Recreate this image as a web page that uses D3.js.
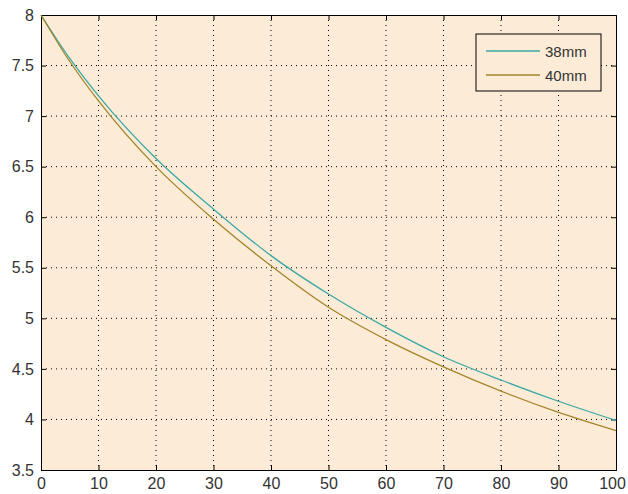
<!DOCTYPE html>
<html>
<head>
<meta charset="utf-8">
<script src="https://cdn.jsdelivr.net/npm/d3@7"></script>
<style>
  body { margin: 0; background: #ffffff; overflow: hidden; }
  text { font-family: Arial, "Liberation Sans", sans-serif; }
</style>
</head>
<body>
<div id="chart"></div>
<script>
// values
var xs = [0, 5, 10, 20, 30, 40, 50, 60, 70, 80, 90, 100];
var mm38 = [8, 7.57, 7.2, 6.58, 6.08, 5.62, 5.24, 4.91, 4.62, 4.39, 4.18, 3.99];
var mm40 = [8, 7.54, 7.15, 6.5, 5.98, 5.52, 5.11, 4.79, 4.52, 4.28, 4.07, 3.89];
var xTicks = [0, 10, 20, 30, 40, 50, 60, 70, 80, 90, 100];
var yTicks = [3.5, 4, 4.5, 5, 5.5, 6, 6.5, 7, 7.5, 8];
var seriesNames = ["38mm", "40mm"];
var seriesColors = ["#3aa8a4", "#a3852a"];

var margin = { top: 15, right: 12, bottom: 24, left: 41 },
    width = 628 - margin.left - margin.right,
    height = 494 - margin.top - margin.bottom;

var svg = d3.select("#chart")
  .append("svg")
    .attr("width", 628)
    .attr("height", 494)
  .append("g")
    .attr("transform", "translate(" + margin.left + "," + margin.top + ")");

var x = d3.scaleLinear().domain([0, 100]).range([0, width]);
var y = d3.scaleLinear().domain([3.5, 8]).range([height, 0]);

// plot background
svg.append("rect")
  .attr("width", width)
  .attr("height", height)
  .attr("fill", "#fcecd7");

// dotted grid
svg.append("g")
  .selectAll("line")
  .data(xTicks.slice(1, -1))
  .join("line")
    .attr("x1", d => x(d)).attr("x2", d => x(d))
    .attr("y1", 0).attr("y2", height)
    .attr("stroke", "#000")
    .attr("stroke-width", 1)
    .attr("stroke-dasharray", "1,4");
svg.append("g")
  .selectAll("line")
  .data(yTicks.slice(1, -1))
  .join("line")
    .attr("x1", 0).attr("x2", width)
    .attr("y1", d => y(d)).attr("y2", d => y(d))
    .attr("stroke", "#000")
    .attr("stroke-width", 1)
    .attr("stroke-dasharray", "1,4");

// axes (matlab style, ticks inside)
var xAxis = svg.append("g")
  .attr("transform", "translate(0," + height + ")")
  .call(d3.axisBottom(x).tickValues(xTicks).tickSize(-5).tickPadding(8).tickFormat(d3.format("d")));
svg.append("g")
  .call(d3.axisLeft(y).tickValues(yTicks).tickSize(-5).tickPadding(7).tickFormat(d => d));
svg.append("g")
  .call(d3.axisTop(x).tickValues(xTicks).tickSize(-5).tickFormat(""));
svg.append("g")
  .attr("transform", "translate(" + width + ",0)")
  .call(d3.axisRight(y).tickValues(yTicks).tickSize(-5).tickFormat(""));

svg.selectAll(".domain").attr("stroke", "#000");
svg.selectAll(".tick line").attr("stroke", "#000");
svg.selectAll(".tick text")
  .attr("fill", "#333")
  .attr("font-size", 16);

// keep the last x label inside the window
xAxis.selectAll(".tick text")
  .filter(d => d === 100)
  .attr("dx", -4);

// lines
var line = d3.line()
  .x(function(d) { return x(d[0]); })
  .y(function(d) { return y(d[1]); })
  .curve(d3.curveMonotoneX);

[mm38, mm40].forEach(function(vals, i) {
  svg.append("path")
    .datum(xs.map(function(v, j) { return [v, vals[j]]; }))
    .attr("fill", "none")
    .attr("stroke", seriesColors[i])
    .attr("stroke-width", 1.3)
    .attr("d", line);
});

// legend
var legend = svg.append("g")
  .attr("transform", "translate(" + (476 - margin.left) + "," + (34 - margin.top) + ")");
legend.append("rect")
  .attr("width", 125)
  .attr("height", 57)
  .attr("fill", "#fcecd7")
  .attr("stroke", "#000")
  .attr("stroke-width", 1);
seriesNames.forEach(function(name, i) {
  var ly = 17 + i * 24;
  legend.append("line")
    .attr("x1", 10).attr("x2", 64)
    .attr("y1", ly).attr("y2", ly)
    .attr("stroke", seriesColors[i])
    .attr("stroke-width", 1.3);
  legend.append("text")
    .attr("x", 69)
    .attr("y", ly + 6)
    .attr("fill", "#333")
    .attr("font-size", 15)
    .text(name);
});
</script>
</body>
</html>
